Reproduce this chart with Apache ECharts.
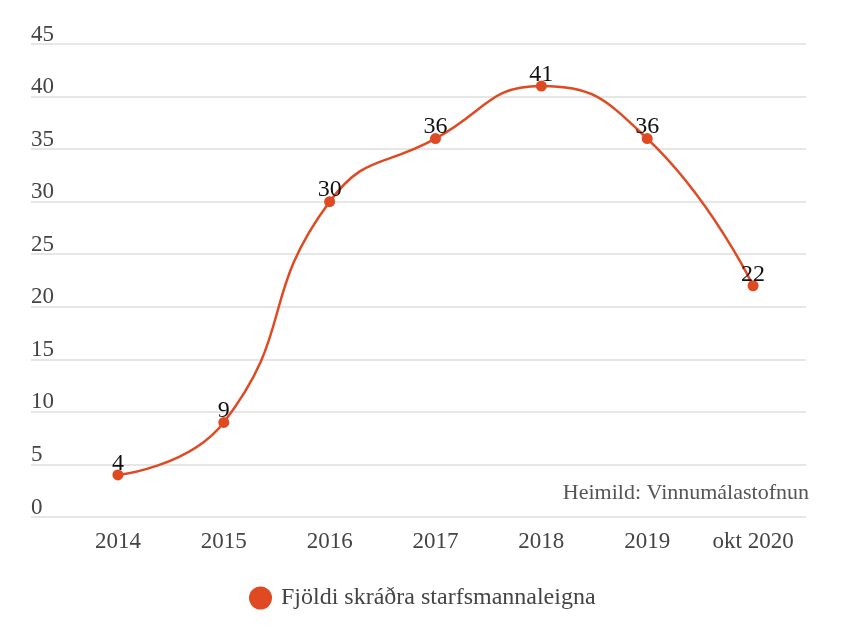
<!DOCTYPE html>
<html><head><meta charset="utf-8">
<script src="https://cdn.jsdelivr.net/npm/echarts@6/dist/echarts.min.js"></script>
<style>html,body{margin:0;padding:0;background:#fff}#c{width:867px;height:627px}</style>
</head><body><div id="c"></div>
<script>
const categories = ['2014','2015','2016','2017','2018','2019','okt 2020'];
const values = [4, 9, 30, 36, 41, 36, 22];
const yTicks = [0,5,10,15,20,25,30,35,40,45];
const seriesName = 'Fjöldi skráðra starfsmannaleigna';
const sourceText = 'Heimild: Vinnumálastofnun';

const FONT = 'Liberation Serif';
const chart = echarts.init(document.getElementById('c'));
chart.setOption({
  animation: false,
  backgroundColor: '#fff',
  textStyle: {fontFamily: FONT},
  grid: {left: 31, right: 61, top: 44, bottom: 110},
  legend: {
    data: [seriesName], bottom: 12, left: 244, icon: 'circle',
    itemWidth: 23, itemHeight: 23, itemGap: 10,
    textStyle: {fontFamily: FONT, fontSize: 24, color: '#444', padding: [0,0,0,4]}
  },
  xAxis: {
    type: 'value', min: -0.821, max: 6.5,
    axisLine: {show: false}, axisTick: {show: false}, splitLine: {show: false},
    axisLabel: {
      customValues: categories.map((c, i) => i),
      formatter: v => categories[Math.round(v)],
      fontFamily: FONT, fontSize: 23, color: '#444', margin: 13
    }
  },
  yAxis: {
    type: 'value', min: 0, max: 45, interval: 5,
    axisLine: {show: false}, axisTick: {show: false},
    splitLine: {lineStyle: {color: '#dedede', width: 1.5}},
    axisLabel: {
      inside: true, margin: 0, verticalAlign: 'bottom', lineHeight: 19,
      customValues: yTicks,
      fontFamily: FONT, fontSize: 23, color: '#444'
    }
  },
  graphic: [{
    type: 'text', right: 55, top: 479, z: 10,
    style: {text: sourceText, fill: '#555', font: '22px "Liberation Serif"',
            backgroundColor: '#fff', padding: [3, 3]}
  }],
  series: [{
    name: seriesName, type: 'line', smooth: 0.5,
    data: values.map((v, i) => [i, v]),
    symbol: 'circle', symbolSize: 11,
    itemStyle: {color: '#e04a22'},
    lineStyle: {color: '#e04a22', width: 2.5},
    label: {show: true, position: 'top', distance: -6, color: '#111',
            fontFamily: FONT, fontSize: 24}
  }]
});
</script></body></html>
